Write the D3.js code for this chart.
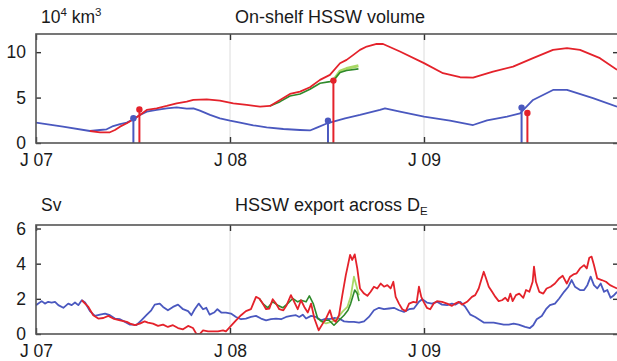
<!DOCTYPE html>
<html>
<head>
<meta charset="utf-8">
<script src="https://cdn.jsdelivr.net/npm/d3@7"></script>
<style>
  body { margin: 0; background: #fff; }
  svg text { font-family: "Liberation Sans", Arial, sans-serif; fill: #1a1a1a; }
</style>
</head>
<body>
<svg id="chart" width="617" height="361"></svg>
<script>
// time is given in years since 1 Jan 2007

// x ticks
const xTicks = [0, 1, 2];
const xTickLabels = ["J 07", "J 08", "J 09"];

// panel 1: on-shelf HSSW volume (10^4 km^3)
const volTicks = [0, 5, 10];
const volBlueT = [0, 0.139, 0.278, 0.330, 0.364, 0.398, 0.433, 0.468, 0.502, 0.536, 0.571, 0.622, 0.674, 0.725, 0.777, 0.811, 0.845, 0.897, 0.948, 1.000, 1.052, 1.120, 1.189, 1.275, 1.361, 1.412, 1.448, 1.505, 1.593, 1.670, 1.773, 1.799, 1.876, 2.000, 2.134, 2.253, 2.325, 2.428, 2.495, 2.562, 2.665, 2.737, 2.871, 2.995];
const volBlueV = [2.24, 1.8, 1.32, 1.43, 1.51, 1.87, 2.09, 2.24, 2.61, 3.09, 3.45, 3.64, 3.82, 3.93, 3.78, 3.82, 3.56, 3.09, 2.72, 2.46, 2.24, 1.95, 1.73, 1.54, 1.43, 1.38, 1.7, 2.2, 2.72, 3.09, 3.64, 3.82, 3.45, 2.9, 2.46, 1.98, 2.5, 2.9, 3.27, 4.74, 5.84, 5.84, 4.93, 4.0];
const volRedT = [0.278, 0.330, 0.381, 0.407, 0.433, 0.468, 0.502, 0.536, 0.571, 0.622, 0.674, 0.725, 0.777, 0.811, 0.880, 0.948, 1.017, 1.086, 1.155, 1.206, 1.258, 1.309, 1.361, 1.412, 1.464, 1.515, 1.567, 1.601, 1.636, 1.670, 1.705, 1.756, 1.789, 1.876, 2.000, 2.098, 2.186, 2.253, 2.356, 2.459, 2.562, 2.665, 2.737, 2.804, 2.907, 2.995];
const volRedV = [1.32, 1.18, 1.18, 1.43, 1.8, 2.17, 2.61, 3.09, 3.64, 3.82, 4.08, 4.37, 4.55, 4.74, 4.81, 4.66, 4.37, 4.19, 4.0, 4.08, 4.74, 5.4, 5.66, 6.14, 6.95, 7.5, 8.78, 9.15, 9.7, 10.25, 10.62, 10.91, 10.9, 10.07, 8.79, 7.68, 7.24, 7.2, 7.86, 8.4, 9.34, 10.25, 10.44, 10.25, 9.34, 8.05];
const volGreenT = [1.206, 1.258, 1.309, 1.361, 1.412, 1.464, 1.515, 1.533, 1.567, 1.601, 1.662];
const volGreenV = [4.08, 4.55, 5.18, 5.4, 5.92, 6.58, 6.76, 6.87, 7.76, 7.98, 8.16];
const volLightT = [1.533, 1.567, 1.601, 1.662];
const volLightV = [6.9, 7.9, 8.2, 8.5];
const stemBlueT = [0.502, 1.505, 2.503];
const stemBlueV = [2.72, 2.45, 3.9];
const stemRedT = [0.533, 1.533, 2.533];
const stemRedV = [3.7, 6.87, 3.3];

// panel 2: HSSW export across D_E (Sv)
const expTicks = [0, 2, 4, 6];
const expBlueT = [0, 0.029, 0.046, 0.063, 0.081, 0.098, 0.115, 0.141, 0.166, 0.184, 0.201, 0.218, 0.236, 0.253, 0.278, 0.304, 0.330, 0.356, 0.381, 0.407, 0.433, 0.459, 0.485, 0.500, 0.517, 0.543, 0.569, 0.594, 0.612, 0.638, 0.655, 0.680, 0.706, 0.732, 0.758, 0.784, 0.801, 0.818, 0.839, 0.861, 0.878, 0.895, 0.918, 0.935, 0.955, 0.979, 1.005, 1.031, 1.057, 1.082, 1.108, 1.134, 1.160, 1.186, 1.211, 1.237, 1.263, 1.289, 1.314, 1.340, 1.357, 1.375, 1.392, 1.418, 1.443, 1.469, 1.495, 1.510, 1.536, 1.562, 1.588, 1.613, 1.639, 1.665, 1.691, 1.716, 1.742, 1.768, 1.794, 1.820, 1.845, 1.871, 1.897, 1.923, 1.948, 1.974, 1.991, 2.015, 2.041, 2.067, 2.093, 2.119, 2.144, 2.161, 2.187, 2.213, 2.239, 2.264, 2.290, 2.308, 2.334, 2.359, 2.385, 2.411, 2.437, 2.462, 2.488, 2.521, 2.546, 2.563, 2.581, 2.607, 2.629, 2.649, 2.675, 2.697, 2.722, 2.744, 2.761, 2.778, 2.804, 2.825, 2.842, 2.859, 2.876, 2.893, 2.911, 2.928, 2.945, 2.962, 2.976, 2.995];
const expBlueV = [1.64, 1.87, 1.73, 1.83, 1.79, 1.83, 1.64, 1.49, 1.73, 1.64, 1.79, 1.64, 1.92, 1.79, 1.3, 1.03, 1.1, 1.16, 1.07, 0.88, 0.84, 0.69, 0.53, 0.53, 0.5, 0.78, 1.07, 1.35, 1.67, 1.73, 1.54, 1.35, 1.54, 1.67, 1.41, 1.3, 1.07, 1.41, 1.73, 1.41, 1.49, 1.1, 1.22, 1.41, 1.22, 1.22, 1.16, 0.97, 0.84, 0.88, 0.97, 1.03, 0.88, 0.78, 0.84, 0.88, 0.84, 0.97, 1.03, 1.07, 0.97, 1.1, 0.88, 1.03, 0.97, 0.78, 0.88, 0.84, 0.91, 0.88, 0.72, 0.69, 0.69, 0.65, 0.72, 0.97, 1.35, 1.49, 1.41, 1.45, 1.49, 1.35, 1.26, 1.41, 1.45, 1.83, 1.98, 1.79, 1.73, 1.83, 1.67, 1.64, 1.73, 1.67, 1.83, 1.54, 1.1, 0.97, 0.78, 0.65, 0.65, 0.65, 0.59, 0.53, 0.53, 0.59, 0.53, 0.4, 0.34, 0.5, 0.84, 1.03, 1.41, 1.64, 1.73, 2.02, 2.4, 2.69, 3.07, 2.69, 2.5, 2.5, 2.78, 3.26, 2.78, 2.59, 2.87, 2.4, 2.5, 2.06, 2.17, 2.4];
const expRedT = [0.236, 0.270, 0.295, 0.321, 0.347, 0.373, 0.398, 0.433, 0.468, 0.485, 0.509, 0.535, 0.560, 0.577, 0.603, 0.629, 0.655, 0.680, 0.706, 0.732, 0.758, 0.784, 0.809, 0.826, 0.844, 0.861, 0.887, 0.912, 0.938, 0.964, 0.979, 1.005, 1.031, 1.057, 1.082, 1.108, 1.134, 1.151, 1.169, 1.186, 1.203, 1.220, 1.237, 1.254, 1.275, 1.292, 1.314, 1.331, 1.349, 1.366, 1.383, 1.401, 1.418, 1.435, 1.457, 1.478, 1.495, 1.501, 1.515, 1.527, 1.545, 1.562, 1.579, 1.597, 1.608, 1.619, 1.630, 1.643, 1.656, 1.670, 1.691, 1.708, 1.725, 1.742, 1.759, 1.777, 1.794, 1.811, 1.828, 1.842, 1.854, 1.871, 1.888, 1.906, 1.923, 1.945, 1.962, 1.974, 1.986, 1.998, 2.015, 2.032, 2.050, 2.067, 2.093, 2.119, 2.144, 2.161, 2.179, 2.196, 2.222, 2.247, 2.264, 2.282, 2.295, 2.308, 2.320, 2.334, 2.351, 2.368, 2.385, 2.402, 2.419, 2.433, 2.445, 2.457, 2.474, 2.491, 2.512, 2.526, 2.543, 2.560, 2.567, 2.577, 2.594, 2.615, 2.632, 2.653, 2.675, 2.697, 2.715, 2.736, 2.753, 2.770, 2.787, 2.804, 2.825, 2.839, 2.852, 2.864, 2.876, 2.893, 2.916, 2.938, 2.959, 2.976, 2.995];
const expRedV = [1.92, 1.54, 1.07, 0.88, 0.91, 1.03, 0.88, 0.78, 0.69, 0.59, 0.5, 0.59, 0.72, 0.65, 0.59, 0.46, 0.53, 0.4, 0.5, 0.34, 0.27, 0.46, 0.34, 0.02, 0.0, 0.21, 0.15, 0.15, 0.15, 0.21, 0.15, 0.46, 0.78, 1.07, 1.3, 1.41, 2.11, 2.02, 1.73, 1.41, 1.45, 1.98, 1.73, 1.41, 1.35, 1.64, 2.21, 1.83, 1.41, 1.92, 1.54, 1.22, 1.73, 0.88, 0.21, 0.59, 0.88, 1.03, 1.35, 0.88, 0.69, 1.07, 2.21, 3.35, 3.92, 4.5, 4.21, 4.53, 3.73, 2.59, 2.3, 2.17, 2.4, 2.69, 2.59, 2.87, 2.69, 2.78, 2.59, 2.97, 2.11, 1.73, 1.41, 1.3, 1.73, 1.83, 1.79, 2.69, 2.11, 1.83, 1.49, 1.41, 1.73, 1.87, 1.83, 1.73, 1.6, 1.73, 1.83, 1.67, 1.83, 2.11, 2.21, 2.59, 3.07, 3.54, 3.16, 2.69, 2.4, 2.11, 1.87, 1.92, 2.06, 1.87, 2.3, 1.87, 2.21, 2.3, 2.06, 2.5, 2.4, 2.97, 3.83, 2.97, 2.4, 2.3, 2.59, 2.69, 2.87, 3.16, 3.31, 2.87, 3.26, 3.39, 3.45, 3.73, 3.92, 3.73, 4.34, 4.4, 3.92, 3.16, 3.07, 2.97, 2.78, 2.69, 2.59];
const expGreenT = [1.151, 1.169, 1.195, 1.220, 1.246, 1.272, 1.297, 1.323, 1.349, 1.366, 1.392, 1.409, 1.429, 1.452, 1.478, 1.495, 1.510, 1.536, 1.562, 1.588, 1.608, 1.622, 1.643, 1.656, 1.665];
const expGreenV = [2.02, 1.73, 1.49, 1.83, 1.64, 1.49, 1.73, 2.02, 1.83, 1.92, 1.83, 2.17, 1.73, 0.88, 0.69, 0.78, 0.78, 0.5, 0.78, 1.07, 1.35, 1.73, 2.5, 2.3, 1.87];
const expLightT = [1.464, 1.495, 1.526, 1.553, 1.579, 1.605, 1.622, 1.639, 1.653, 1.665];
const expLightV = [0.75, 0.6, 0.7, 0.88, 1.26, 1.54, 2.11, 3.26, 2.69, 2.21];

const colBlue = "#4a58bf";
const colRed = "#e4222b";
const colGreen = "#2f8a2b";
const colLight = "#a8d865";

const svg = d3.select("#chart");
const x = d3.scaleLinear().domain([0, 3]).range([36, 618]);

const panels = [
  {
    id: "vol", top: 34, bottom: 143, domain: [0, 12], ticks: volTicks,
    unit: ["10", "4", " km", "3"], title: "On-shelf HSSW volume", textY: 23,
    series: [
      {t: volBlueT, v: volBlueV, c: colBlue, w: 1.8},
      {t: volLightT, v: volLightV, c: colLight, w: 3},
      {t: volGreenT, v: volGreenV, c: colGreen, w: 1.6},
      {t: volRedT, v: volRedV, c: colRed, w: 1.8}
    ],
    stems: [
      {t: stemBlueT, v: stemBlueV, c: colBlue},
      {t: stemRedT, v: stemRedV, c: colRed}
    ]
  },
  {
    id: "exp", top: 225, bottom: 334, domain: [0, 6.2], ticks: expTicks,
    unit: ["Sv"], title: "HSSW export across D", textY: 211,
    series: [
      {t: expBlueT, v: expBlueV, c: colBlue, w: 1.8},
      {t: expLightT, v: expLightV, c: colLight, w: 1.8},
      {t: expGreenT, v: expGreenV, c: colGreen, w: 1.6},
      {t: expRedT, v: expRedV, c: colRed, w: 1.8}
    ],
    stems: []
  }
];

panels.forEach(p => {
  const y = d3.scaleLinear().domain(p.domain).range([p.bottom, p.top]);
  const g = svg.append("g");

  g.append("clipPath").attr("id", "clip-" + p.id)
    .append("rect")
    .attr("x", x.range()[0]).attr("y", p.top)
    .attr("width", x.range()[1] - x.range()[0]).attr("height", p.bottom - p.top);

  // light vertical grid at year starts
  g.selectAll("line.grid")
    .data(xTicks.slice(1))
    .enter().append("line")
    .attr("class", "grid")
    .attr("x1", d => x(d)).attr("x2", d => x(d))
    .attr("y1", p.top).attr("y2", p.bottom)
    .attr("stroke", "#dcdcdc").attr("stroke-width", 1);

  const line = d3.line().x(d => x(d[0])).y(d => y(d[1]));
  const plot = g.append("g").attr("clip-path", `url(#clip-${p.id})`);

  p.series.forEach(s => {
    plot.append("path")
      .datum(d3.zip(s.t, s.v))
      .attr("d", line)
      .attr("fill", "none")
      .attr("stroke", s.c)
      .attr("stroke-width", s.w)
      .attr("stroke-linejoin", "round");
  });

  p.stems.forEach(s => {
    const pts = d3.zip(s.t, s.v);
    plot.selectAll(null).data(pts).enter().append("line")
      .attr("x1", d => x(d[0])).attr("x2", d => x(d[0]))
      .attr("y1", y(0)).attr("y2", d => y(d[1]))
      .attr("stroke", s.c).attr("stroke-width", 2);
    plot.selectAll(null).data(pts).enter().append("circle")
      .attr("cx", d => x(d[0])).attr("cy", d => y(d[1]))
      .attr("r", 3.2).attr("fill", s.c);
  });

  // axes
  const yAxis = g.append("g")
    .attr("transform", `translate(${x.range()[0]},0)`)
    .call(d3.axisLeft(y).tickValues(p.ticks).tickSize(-5).tickPadding(10).tickFormat(d3.format("d")));
  const yAxisR = g.append("g")
    .attr("transform", `translate(${x.range()[1]},0)`)
    .call(d3.axisRight(y).tickValues(p.ticks).tickSize(-5).tickFormat(""));
  const xAxis = g.append("g")
    .attr("transform", `translate(0,${p.bottom})`)
    .call(d3.axisBottom(x).tickValues(xTicks).tickSize(-6).tickPadding(11)
      .tickFormat((d, i) => xTickLabels[i]));
  const xAxisT = g.append("g")
    .attr("transform", `translate(0,${p.top})`)
    .call(d3.axisTop(x).tickValues(xTicks).tickSize(-6).tickFormat(""));

  [yAxis, yAxisR, xAxis, xAxisT].forEach(a => {
    a.select(".domain").remove();
    a.selectAll(".tick line").attr("stroke", "#333").attr("stroke-width", 1.4);
    a.selectAll(".tick text")
      .attr("font-size", 17.5)
      .attr("font-family", "Liberation Sans, Arial, sans-serif")
      .attr("fill", "#1a1a1a");
  });

  // frame
  g.append("rect")
    .attr("x", x.range()[0]).attr("y", p.top)
    .attr("width", x.range()[1] - x.range()[0]).attr("height", p.bottom - p.top)
    .attr("fill", "none").attr("stroke", "#555").attr("stroke-width", 1.6);

  // unit label
  const u = g.append("text").attr("x", 41).attr("y", p.textY).attr("font-size", 17.5);
  if (p.unit.length > 1) {
    u.append("tspan").text(p.unit[0]);
    u.append("tspan").text(p.unit[1]).attr("font-size", 11.5).attr("dy", -7);
    u.append("tspan").text(p.unit[2]).attr("dy", 7);
    u.append("tspan").text(p.unit[3]).attr("font-size", 11.5).attr("dy", -7);
  } else {
    u.text(p.unit[0]);
  }

  // title
  const t = g.append("text").attr("x", 235).attr("y", p.textY).attr("font-size", 18);
  t.append("tspan").text(p.title);
  if (p.id === "exp") {
    t.append("tspan").text("E").attr("font-size", 11.5).attr("dy", 4);
  }
});
</script>
</body>
</html>
